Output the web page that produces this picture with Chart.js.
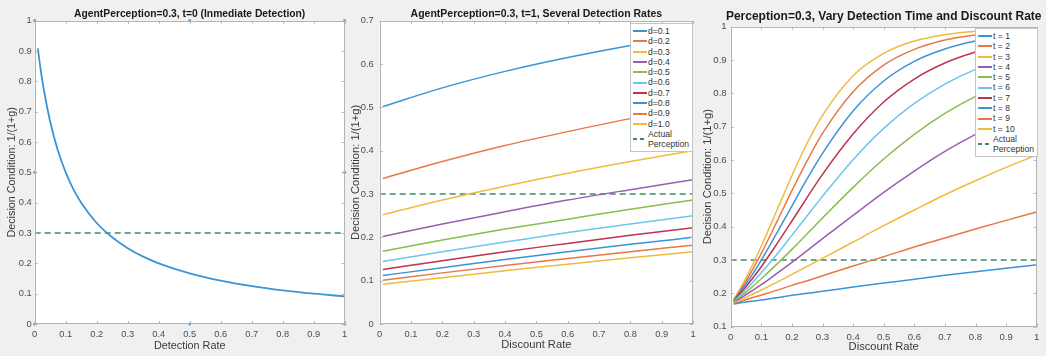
<!DOCTYPE html>
<html>
<head>
<meta charset="utf-8">
<script src="https://cdn.jsdelivr.net/npm/chart.js@4.4.1/dist/chart.umd.min.js"></script>
<style>
  body { margin: 0; background: #f0f0f0; width: 1046px; height: 356px; overflow: hidden; position: relative; font-family: 'Liberation Sans', Arial, sans-serif; }
  canvas { position: absolute; top: 0; }
  .leyenda { position: absolute; background: #fff; border: 1px solid #c4c4c4; font-size: 8.6px; color: #333; padding: 2px 2px 1px 2px; line-height: 10.3px; }
  .fila { display: flex; align-items: center; white-space: nowrap; }
  .muestra { width: 14px; height: 2px; margin-right: 1px; flex: none; }
  .texto { color: #333; }
</style>
</head>
<body>
<canvas id="g1" width="349" height="356" style="left:0px"></canvas>
<canvas id="g2" width="352" height="356" style="left:345px"></canvas>
<canvas id="g3" width="356" height="356" style="left:690px"></canvas>
<div id="ley2" class="leyenda" style="left:630px; top:23px; width:57px"></div>
<div id="ley3" class="leyenda" style="left:975px; top:28px; width:57px"></div>
<script>
// ---------- DATOS ----------

const percepcion = 0.3

// panel 1: t=0, varia la tasa de deteccion
const tasaDeteccion = [0.01, 0.02, 0.03, 0.05, 0.075, 0.1, 0.125, 0.15, 0.2, 0.25, 0.3, 0.35, 0.4, 0.5, 0.6, 0.7, 0.8, 0.9, 1.0]
const condicionT0 = [0.909, 0.833, 0.769, 0.667, 0.571, 0.5, 0.444, 0.4, 0.333, 0.286, 0.25, 0.222, 0.2, 0.167, 0.143, 0.125, 0.111, 0.1, 0.091]
const marcasX = [0, 0.5, 1, 0, 1, 0, 0.5, 1]
const marcasY = [1, 1, 1, 0.5, 0.5, 0, 0, 0]

// panel 2: t=1, varias tasas de deteccion
const descuento2 = [0.01, 0.2, 0.4, 0.6, 0.8, 1.0]
const etiquetasD = ['d=0.1', 'd=0.2', 'd=0.3', 'd=0.4', 'd=0.5', 'd=0.6', 'd=0.7', 'd=0.8', 'd=0.9', 'd=1.0']
const d01 = [0.502, 0.545, 0.583, 0.615, 0.643, 0.667]
const d02 = [0.336, 0.375, 0.412, 0.444, 0.474, 0.5]
const d03 = [0.252, 0.286, 0.318, 0.348, 0.375, 0.4]
const d04 = [0.202, 0.231, 0.259, 0.286, 0.310, 0.333]
const d05 = [0.168, 0.194, 0.219, 0.242, 0.265, 0.286]
const d06 = [0.144, 0.167, 0.189, 0.211, 0.231, 0.25]
const d07 = [0.126, 0.146, 0.167, 0.186, 0.205, 0.222]
const d08 = [0.112, 0.130, 0.149, 0.167, 0.184, 0.2]
const d09 = [0.101, 0.118, 0.135, 0.151, 0.167, 0.182]
const d10 = [0.092, 0.107, 0.123, 0.138, 0.153, 0.167]

// panel 3: varia el tiempo de deteccion
const descuento3 = [0.01, 0.05, 0.1, 0.15, 0.2, 0.25, 0.3, 0.4, 0.5, 0.6, 0.7, 0.8, 0.9, 1.0]
const etiquetasT = ['t = 1', 't = 2', 't = 3', 't = 4', 't = 5', 't = 6', 't = 7', 't = 8', 't = 9', 't = 10']
const t1 = [0.168, 0.174, 0.180, 0.187, 0.194, 0.200, 0.206, 0.219, 0.231, 0.242, 0.254, 0.265, 0.275, 0.286]
const t2 = [0.169, 0.181, 0.195, 0.209, 0.224, 0.238, 0.253, 0.282, 0.310, 0.339, 0.366, 0.393, 0.419, 0.444]
const t3 = [0.171, 0.188, 0.210, 0.233, 0.257, 0.281, 0.305, 0.354, 0.403, 0.450, 0.496, 0.538, 0.578, 0.615]
const t4 = [0.172, 0.196, 0.226, 0.259, 0.293, 0.328, 0.364, 0.434, 0.503, 0.567, 0.626, 0.677, 0.723, 0.762]
const t5 = [0.174, 0.203, 0.244, 0.287, 0.332, 0.379, 0.426, 0.518, 0.603, 0.677, 0.740, 0.791, 0.832, 0.865]
const t6 = [0.175, 0.211, 0.262, 0.316, 0.374, 0.433, 0.491, 0.601, 0.695, 0.770, 0.828, 0.872, 0.904, 0.928]
const t7 = [0.177, 0.220, 0.280, 0.347, 0.417, 0.488, 0.557, 0.678, 0.774, 0.843, 0.891, 0.924, 0.947, 0.962]
const t8 = [0.178, 0.228, 0.300, 0.380, 0.462, 0.544, 0.620, 0.747, 0.837, 0.896, 0.933, 0.957, 0.971, 0.981]
const t9 = [0.179, 0.237, 0.320, 0.413, 0.508, 0.598, 0.680, 0.805, 0.885, 0.932, 0.960, 0.975, 0.985, 0.990]
const t10 = [0.181, 0.246, 0.342, 0.447, 0.553, 0.651, 0.734, 0.853, 0.920, 0.957, 0.976, 0.986, 0.992, 0.995]

// colores tipo matlab (algo lavados como en la captura)
const colores = ['#3a94d6', '#e8774a', '#efbb3c', '#9a5db3', '#8abd4b', '#69c7ee', '#c0334e', '#3a94d6', '#e8774a', '#efbb3c']
const verde = '#3d8b6b'

// ---------- PLUGIN MARCO ----------
// fondo blanco, caja, ticks hacia adentro y titulo centrado sobre el area (como matlab)
const marco = {
  id: 'marco',
  beforeDraw(chart) {
    const a = chart.chartArea
    const ctx = chart.ctx
    ctx.save()
    ctx.fillStyle = '#ffffff'
    ctx.fillRect(a.left, a.top, a.right - a.left, a.bottom - a.top)
    ctx.restore()
  },
  afterDraw(chart, args, opts) {
    const a = chart.chartArea
    const ctx = chart.ctx
    ctx.save()
    ctx.strokeStyle = '#b4b4b4'
    ctx.lineWidth = 1
    ctx.strokeRect(Math.round(a.left) + 0.5, Math.round(a.top) + 0.5, Math.round(a.right - a.left) - 1, Math.round(a.bottom - a.top) - 1)
    ctx.beginPath()
    chart.scales.x.ticks.forEach(t => {
      const px = Math.round(chart.scales.x.getPixelForValue(t.value)) + 0.5
      ctx.moveTo(px, a.bottom); ctx.lineTo(px, a.bottom - 3)
      ctx.moveTo(px, a.top); ctx.lineTo(px, a.top + 3)
    })
    chart.scales.y.ticks.forEach(t => {
      const py = Math.round(chart.scales.y.getPixelForValue(t.value)) + 0.5
      ctx.moveTo(a.left, py); ctx.lineTo(a.left + 3, py)
      ctx.moveTo(a.right, py); ctx.lineTo(a.right - 3, py)
    })
    ctx.stroke()
    // titulo
    ctx.fillStyle = '#1a1a1a'
    ctx.font = 'bold ' + opts.tam + 'px "Liberation Sans", Arial, sans-serif'
    ctx.textAlign = 'center'
    ctx.textBaseline = 'middle'
    ctx.fillText(opts.titulo, (a.left + a.right) / 2, opts.y)
    ctx.restore()
  }
}

function puntos(xs, ys) {
  return xs.map((x, i) => ({ x: x, y: ys[i] }))
}

function lineaPercepcion() {
  return {
    label: 'Actual Perception',
    data: [{ x: 0, y: percepcion }, { x: 1, y: percepcion }],
    borderColor: verde,
    borderWidth: 1.6,
    borderDash: [6, 4],
    pointRadius: 0
  }
}

// ---------- FUNCION CREAR PANEL ----------
function crearPanel(canvasId, datasets, p) {
  const ctx = document.getElementById(canvasId).getContext('2d')
  const fuente = 'Liberation Sans'
  return new Chart(ctx, {
    type: 'line',
    data: { datasets: datasets },
    plugins: [marco],
    options: {
      responsive: false,
      animation: false,
      layout: { padding: { top: p.arriba, left: 0, right: p.derecha, bottom: 0 } },
      plugins: {
        legend: { display: false },
        tooltip: { enabled: false },
        title: { display: false },
        marco: { titulo: p.titulo, tam: p.tamTitulo, y: p.yTitulo }
      },
      elements: { line: { cubicInterpolationMode: 'monotone' } },
      scales: {
        x: {
          type: 'linear', min: 0, max: 1,
          grid: { display: false, drawTicks: false },
          border: { display: false },
          ticks: {
            stepSize: 0.1, color: '#4d4d4d', padding: p.padTickX,
            font: { family: fuente, size: p.tamTick },
            callback: v => String(+v.toFixed(1))
          },
          title: {
            display: true, text: p.tituloX, color: '#3a3a3a',
            font: { family: fuente, size: p.tamEje },
            padding: { top: 0, bottom: p.padTituloX }
          },
          afterFit: s => { s.height = p.altoX; s.paddingLeft = 0; s.paddingRight = 0 }
        },
        y: {
          type: 'linear', min: p.yMin, max: p.yMax,
          grid: { display: false, drawTicks: false },
          border: { display: false },
          ticks: {
            stepSize: 0.1, color: '#4d4d4d', padding: p.padTickY,
            font: { family: fuente, size: p.tamTick },
            callback: v => String(+v.toFixed(1))
          },
          title: {
            display: true, text: 'Decision Condition: 1/(1+g)', color: '#3a3a3a',
            font: { family: fuente, size: p.tamEje },
            padding: { top: p.padTituloY, bottom: 0 }
          },
          afterFit: s => { s.width = p.anchoY; s.paddingTop = 0; s.paddingBottom = 0 }
        }
      }
    }
  })
}

function crearLeyenda(divId, chart) {
  const div = document.getElementById(divId)
  chart.data.datasets.forEach(ds => {
    if (!ds.label) return
    const fila = document.createElement('div')
    fila.className = 'fila'
    const m = document.createElement('span')
    m.className = 'muestra'
    m.style.background = ds.borderColor
    if (ds.borderDash) {
      m.style.background = 'repeating-linear-gradient(90deg,' + ds.borderColor + ' 0 4px, transparent 4px 7px)'
      m.style.width = '12px'
      m.style.marginRight = '3px'
    }
    const txt = document.createElement('span')
    txt.className = 'texto'
    if (ds.borderDash) {
      txt.innerHTML = 'Actual<br>Perception'
      txt.style.lineHeight = '10.5px'
    } else {
      txt.textContent = ds.label
    }
    fila.appendChild(m)
    fila.appendChild(txt)
    div.appendChild(fila)
  })
}

// ---------- PANEL 1 ----------
crearPanel('g1', [
  { label: '', data: puntos(tasaDeteccion, condicionT0), borderColor: '#3a94d6', borderWidth: 1.8, pointRadius: 0 },
  Object.assign(lineaPercepcion(), { label: '' }),
  { label: '', type: 'scatter', data: puntos(marcasX, marcasY), showLine: false, pointRadius: 1.6, pointBackgroundColor: '#5aa8e0', pointBorderWidth: 0, clip: false }
], {
  titulo: 'AgentPerception=0.3, t=0 (Inmediate Detection)', tamTitulo: 10.3, yTitulo: 14, arriba: 20.7,
  tituloX: 'Detection Rate', tamEje: 10.8, tamTick: 9.3, padTickX: 5, padTituloX: 3.8, padTickY: 3, padTituloY: 5.5,
  altoX: 32, anchoY: 34.7, derecha: 4.3, yMin: 0, yMax: 1
})

// ---------- PANEL 2 ----------
const series2 = [d01, d02, d03, d04, d05, d06, d07, d08, d09, d10]
const ds2 = series2.map((s, i) => ({ label: etiquetasD[i], data: puntos(descuento2, s), borderColor: colores[i], borderWidth: 1.5, pointRadius: 0 }))
ds2.push(lineaPercepcion())
const graf2 = crearPanel('g2', ds2, {
  titulo: 'AgentPerception=0.3, t=1, Several Detection Rates', tamTitulo: 10.5, yTitulo: 14, arriba: 20.7,
  tituloX: 'Discount Rate', tamEje: 11.2, tamTick: 9.3, padTickX: 5, padTituloX: 4.3, padTickY: 6, padTituloY: 3.8,
  altoX: 32, anchoY: 34.7, derecha: 4, yMin: 0, yMax: 0.7
})
crearLeyenda('ley2', graf2)

// ---------- PANEL 3 ----------
const series3 = [t1, t2, t3, t4, t5, t6, t7, t8, t9, t10]
const ds3 = series3.map((s, i) => ({ label: etiquetasT[i], data: puntos(descuento3, s), borderColor: colores[i], borderWidth: 1.5, pointRadius: 0 }))
ds3.push(lineaPercepcion())
const graf3 = crearPanel('g3', ds3, {
  titulo: 'Perception=0.3, Vary Detection Time and Discount Rate', tamTitulo: 12, yTitulo: 16.7, arriba: 26.7,
  tituloX: 'Discount Rate', tamEje: 11.2, tamTick: 9.6, padTickX: 4.5, padTituloX: 2.6, padTickY: 4, padTituloY: 11.3,
  altoX: 29.3, anchoY: 40.7, derecha: 9.3, yMin: 0.1, yMax: 1
})
crearLeyenda('ley3', graf3)
</script>
</body>
</html>
